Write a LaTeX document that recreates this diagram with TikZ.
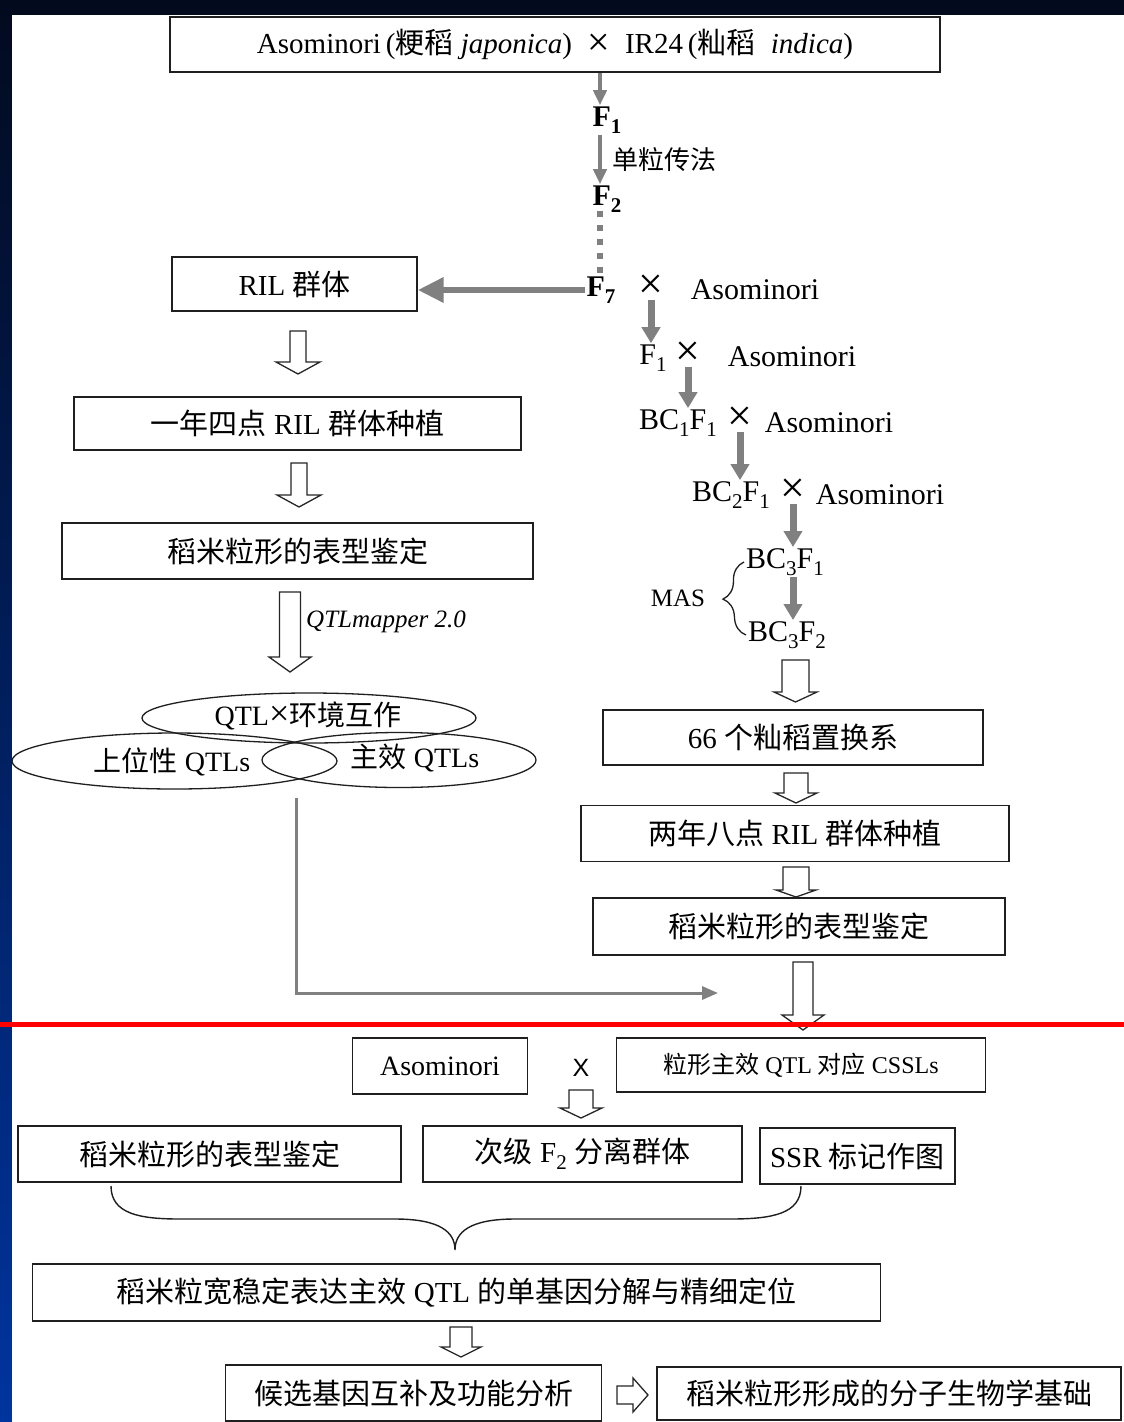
\documentclass[tikz,border=0pt]{standalone}
\usepackage{fontspec}
\setmainfont{Liberation Serif}
\newfontfamily\cjk{Noto Sans CJK SC}
\newfontfamily\sansx{Liberation Sans}
\usetikzlibrary{arrows.meta,shapes.geometric,decorations.pathreplacing}
\definecolor{bgtop}{HTML}{020A1E}
\definecolor{bgbot}{HTML}{00349E}
\definecolor{agray}{HTML}{808080}
\definecolor{redline}{HTML}{FF0000}
\newcommand{\fsz}[1]{\fontsize{#1}{#1}\selectfont}
\newcommand{\lo}[1]{\raisebox{-0.25em}{\fsz{21}#1}}
\newcommand{\bigx}{{\fsz{40}\raisebox{-0.05em}{×}}}
\newcommand{\hollowdown}[6]{%
  \draw[hollow] ({#1-#5},#2) -- ({#1+#5},#2) -- ({#1+#5},#3) -- ({#1+#6},#3) -- (#1,#4) -- ({#1-#6},#3) -- ({#1-#5},#3) -- cycle;}
\tikzset{
  box/.style={draw=black!88, line width=1.4pt, rectangle, inner sep=0pt, font=\fsz{29}},
  ell/.style={draw=black!88, line width=1.3pt, ellipse, inner sep=0pt},
  lbl/.style={inner sep=1pt, font=\fsz{28}},
  fb/.style={inner sep=1pt, font=\bfseries\fsz{30}},
  rw/.style={inner sep=1pt, font=\fsz{30}},
  crs/.style={inner sep=1pt, font=\fsz{44}},
  garrow/.style={draw=agray, line width=4.5pt, -{Triangle[length=15pt,width=13pt]}},
  garrowb/.style={draw=agray, line width=7pt, -{Triangle[length=16pt,width=18pt]}},
  ghoriz/.style={draw=agray, line width=6.5pt, -{Triangle[length=26pt,width=24pt]}},
  gdots/.style={draw=agray, line width=6pt, dash pattern=on 6pt off 8pt},
  gline/.style={draw=agray, line width=3pt, -{Triangle[length=16pt,width=13pt]}},
  hollow/.style={draw=black!85, line width=1.3pt, fill=white},
  bline/.style={draw=black!88, line width=1.4pt},
}
\begin{document}
\begin{tikzpicture}[x=1pt,y=-1pt]
\useasboundingbox (0,0) rectangle (1124,1422);
% background frame
\fill[bgtop] (0,0) rectangle (1124,15);
\shade[top color=bgtop, bottom color=bgbot] (0,0) rectangle (12,1422);
\fill[white] (12,15) rectangle (1124,1422);

% ---------- top ----------
\node[box, minimum width=770pt, minimum height=55pt] (top) at (555,44.5)
  {Asominori\,({\cjk 粳稻} \textit{japonica})\; \bigx\; IR24\,({\cjk 籼稻}\; \textit{indica})};

\coordinate (colF) at (600,0);
\node[fb] (f1) at (607,120) {F\lo{1}};
\node[lbl, font={\cjk\fsz{26}}, anchor=west] (sdl) at (611,160) {单粒传法};
\node[fb] (f2) at (607,199) {F\lo{2}};
\node[fb] (f7) at (601,290) {F\lo{7}};
\node[crs] (x7) at (651,287) {×};
\node[rw] (aso7) at (755,290) {Asominori};

\draw[garrow] (top.south -| colF) -- (f1.north -| colF);
\draw[garrow] (f1.south -| colF) -- (f2.north -| colF);
\draw[gdots] ([yshift=3pt]f2.south -| colF) -- ([yshift=-2pt]f7.north -| colF);

% ---------- left column ----------
\node[box, minimum width=245pt, minimum height=54pt] (ril) at (294.5,284) {RIL {\cjk 群体}};
\draw[ghoriz] (f7.west) -- (f7.west -| ril.east);

\node[box, minimum width=447pt, minimum height=53pt] (b2) at (297.5,423.5) {{\cjk 一年四点} RIL {\cjk 群体种植}};
\node[box, minimum width=471pt, minimum height=56pt] (b3) at (297.5,551) {\cjk 稻米粒形的表型鉴定};

\hollowdown{298}{331}{362}{374}{8}{22}
\hollowdown{299}{463}{495}{507}{8}{22}
\hollowdown{290}{592}{657}{672}{10.5}{21}
\node[inner sep=1pt, font=\itshape\fsz{25}, anchor=west] (qtlm) at (305,622) {QTLmapper 2.0};

\node[ell, minimum width=334pt, minimum height=50pt] (e1) at (309,718) {};
\node[ell, minimum width=325pt, minimum height=56pt] (e2) at (174.5,761) {};
\node[ell, minimum width=274pt, minimum height=55pt] (e3) at (399,760) {};
\node[lbl] (e1t) at (308,716) {QTL{\fsz{36}×}{\cjk 环境互作}};
\node[lbl] (e2t) at (172,762) {{\cjk 上位性} QTLs};
\node[lbl] (e3t) at (415,758) {{\cjk 主效} QTLs};

\coordinate (gstart) at (296,798);
\coordinate (gend) at (718,993);
\draw[gline] (gstart) |- (gend);

% ---------- right column ----------
\node[rw] (f1r) at (653,358) {F\lo{1}};
\node[crs] (x1r) at (688,354) {×};
\node[rw] (aso1) at (792,357) {Asominori};
\node[rw] (bc1) at (678,423) {BC\lo{1}F\lo{1}};
\node[crs] (x2r) at (740,419) {×};
\node[rw] (aso2) at (829,423) {Asominori};
\node[rw] (bc2) at (731,495) {BC\lo{2}F\lo{1}};
\node[crs] (x3r) at (793,491) {×};
\node[rw] (aso3) at (880,495) {Asominori};
\node[rw] (bc3a) at (785,562) {BC\lo{3}F\lo{1}};
\node[rw] (bc3b) at (787,635) {BC\lo{3}F\lo{2}};
\node[lbl, font=\fsz{25}] (mas) at (678,598) {MAS};

\draw[garrowb] (x7.south) -- (x7.south |- f1r.north);
\draw[garrowb] (x1r.south) -- (x1r.south |- bc1.north);
\draw[garrowb] (x2r.south) -- (x2r.south |- bc2.north);
\draw[garrowb] (x3r.south) -- (x3r.south |- bc3a.north);
\draw[garrowb] (bc3a.south -| x3r) -- (bc3b.north -| x3r);
\draw[bline, line width=1.3pt, decorate, decoration={brace, amplitude=22pt}]
  ([xshift=-1pt]bc3b.west) -- ([xshift=-1pt]bc3a.west);

\node[box, minimum width=380pt, minimum height=55pt] (b66) at (793,737.5) {66 {\cjk 个籼稻置换系}};
\node[box, minimum width=428pt, minimum height=56pt] (b2y) at (795,833.5) {{\cjk 两年八点} RIL {\cjk 群体种植}};
\node[box, minimum width=412pt, minimum height=57pt] (b3r) at (799,926.5) {\cjk 稻米粒形的表型鉴定};

\hollowdown{795.5}{660}{692}{702}{13.5}{21.5}
\hollowdown{796}{773}{793}{803}{12}{21}
\hollowdown{796}{867}{890}{897}{13}{20}
\hollowdown{803}{962}{1015}{1030}{10}{21}

% red separator
\draw[redline, line width=5pt] (0,1024) -- (1124,1024);

% ---------- bottom ----------
\node[box, minimum width=175pt, minimum height=56pt, font=\fsz{28}] (asob) at (440,1066) {Asominori};
\node[inner sep=1pt, font=\sansx\fsz{25}] (xb) at (581,1068) {X};
\node[box, minimum width=369pt, minimum height=54pt, font=\fsz{24}] (cssl) at (801,1065) {{\cjk 粒形主效} QTL {\cjk 对应} CSSLs};
\hollowdown{581}{1090}{1108}{1118}{12}{21}

\node[box, minimum width=383pt, minimum height=56pt] (pheno) at (209.5,1154) {\cjk 稻米粒形的表型鉴定};
\node[box, minimum width=319pt, minimum height=56pt] (f2pop) at (582.5,1154) {{\cjk 次级} F\lo{2} {\cjk 分离群体}};
\node[box, minimum width=195pt, minimum height=56pt] (ssr) at (857.5,1156) {SSR {\cjk 标记作图}};

\coordinate (br1) at (111,1186);
\coordinate (br2) at (801,1186);
\coordinate (brtip) at (455,1250);
\draw[bline] (br1) .. controls (111,1214) and (140,1219) .. (180,1219) -- (395,1219)
  .. controls (440,1219) and (455,1232) .. (brtip)
  .. controls (455,1232) and (470,1219) .. (515,1219) -- (730,1219)
  .. controls (772,1219) and (801,1214) .. (br2);

\node[box, minimum width=848pt, minimum height=57pt] (fine) at (456.5,1292.5)
  {{\cjk 稻米粒宽稳定表达主效} QTL {\cjk 的单基因分解与精细定位}};
\hollowdown{461}{1327}{1347}{1357}{11}{20}
\node[box, minimum width=376pt, minimum height=56pt] (cand) at (413.5,1393) {\cjk 候选基因互补及功能分析};
\node[box, minimum width=464pt, minimum height=53pt] (basis) at (889,1393.5) {\cjk 稻米粒形形成的分子生物学基础};
\draw[hollow] (617,1386) -- (633,1386) -- (633,1378) -- (648,1395) -- (633,1412) -- (633,1404) -- (617,1404) -- cycle;
\end{tikzpicture}
\end{document}
